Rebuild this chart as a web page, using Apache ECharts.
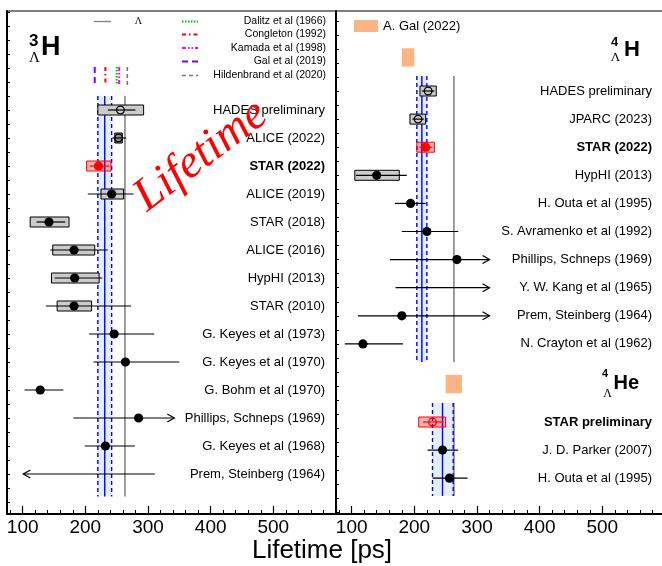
<!DOCTYPE html>
<html>
<head>
<meta charset="utf-8">
<script src="https://cdn.jsdelivr.net/npm/echarts@6/dist/echarts.min.js"></script>
<style>
html, body { margin: 0; padding: 0; background: #fff; }
#c { width: 662px; height: 566px; }
</style>
</head>
<body>
<div id="c"></div>
<script>
// ---------- lifetimes in ps ----------
const LAMBDA_TAU = 263.2;
const X_MIN = 75, X_MAX = 600;
const majorTicks = [100, 200, 300, 400, 500, 600];
const tickLabels = [100, 200, 300, 400, 500];

// hypertriton
const h3Labels = ['HADES preliminary', 'ALICE (2022)', 'STAR (2022)', 'ALICE (2019)', 'STAR (2018)',
  'ALICE (2016)', 'HypHI (2013)', 'STAR (2010)', 'G. Keyes et al (1973)', 'G. Keyes et al (1970)',
  'G. Bohm et al (1970)', 'Phillips, Schneps (1969)', 'G. Keyes et al (1968)', 'Prem, Steinberg (1964)'];
const h3Tau    = [256, 253, 221, 242, 142, 182, 183, 182, 246, 264, 128, 285, 232, null];
const h3StatLo = [236, 243, 207, 204, 122, 144, 151, 137, 206, 213, 103, 181, 199, 101];
const h3StatHi = [280, 265, 238, 277, 168, 236, 227, 273, 310, 350, 165, 342, 279, 311];
const h3SysLo  = [220, 247, 202, 225, 112, 148, 146, 155, null, null, null, null, null, null];
const h3SysHi  = [293, 259, 241, 261, 174, 215, 222, 210, null, null, null, null, null, null];
const h3Arrow  = ['', '', '', '', '', '', '', '', '', '', '', 'right', '', 'left'];
const h3Kind   = ['open', 'openDark', 'star', '', '', '', '', '', '', '', '', '', '', ''];
const h3Avg    = [220, 231, 242];            // low, mean, high
const h3TheoryNames = ['Dalitz et al (1966)', 'Congleton (1992)', 'Kamada et al (1998)', 'Gal et al (2019)', 'Hildenbrand et al (2020)'];
const h3TheoryTau   = [250, 232, 254, 215, 267];

// 4ΛH
const h4Labels = ['HADES preliminary', 'JPARC (2023)', 'STAR (2022)', 'HypHI (2013)', 'H. Outa et al (1995)',
  'S. Avramenko et al (1992)', 'Phillips, Schneps (1969)', 'Y. W. Kang et al (1965)', 'Prem, Steinberg (1964)', 'N. Crayton et al (1962)'];
const h4Tau    = [222, 206, 218, 140, 194, 220, 268, null, 180, 118];
const h4StatLo = [212, 197, 208, 107, 169, 180, 161, 170, 110, 89];
const h4StatHi = [232, 215, 229, 188, 218, 270, 320, 320, 320, 182];
const h4SysLo  = [209, 193, 204, 105, null, null, null, null, null, null];
const h4SysHi  = [235, 218, 232, 176, null, null, null, null, null, null];
const h4Arrow  = ['', '', '', '', '', '', 'right', 'right', 'right', ''];
const h4Kind   = ['open', 'open', 'star', '', '', '', '', '', '', ''];
const h4Avg    = [204, 212, 220];
const h4GalRange = [180, 200];

// 4ΛHe
const heLabels = ['STAR preliminary', 'J. D. Parker (2007)', 'H. Outa et al (1995)'];
const heTau    = [229, 245, 256];
const heStatLo = [214, 221, 229];
const heStatHi = [246, 270, 285];
const heSysLo  = [207, null, null];
const heSysHi  = [250, null, null];
const heArrow  = ['', '', ''];
const heKind   = ['starOpen', '', ''];
const heAvg    = [229, 245, 262];
const heGalRange = [250, 276];

// ---------- layout ----------
const GRID_TOP = 11, GRID_H = 503, PANEL_W = 329;
const L_LEFT = 7, R_LEFT = 336;
const L_ROW0 = 110, L_ROWPX = 28;     // first row centre / row pitch (px)
const R_ROW0 = 91,  R_ROWPX = 28.1;
const HE_ROW0 = 11.78;                // 4ΛHe block offset in right panel rows
const FONT = '"Liberation Sans", Arial, Helvetica, sans-serif';
const SERIF = '"Liberation Serif", "Times New Roman", serif';

function yRange(row0, pitch) {
  const min = -(row0 - GRID_TOP) / pitch;
  return [min, min + GRID_H / pitch];
}
const [lyMin, lyMax] = yRange(L_ROW0, L_ROWPX);
const [ryMin, ryMax] = yRange(R_ROW0, R_ROWPX);

function halfSteps(min, max) {
  const out = [];
  for (let v = Math.ceil(min * 2) / 2; v <= max; v += 0.5) out.push(v);
  return out;
}
const minorTicks = [];
for (let v = 80; v < X_MAX; v += 20) if (v % 100) minorTicks.push(v);

function buildRows(labels, tau, sLo, sHi, yLo, yHi, arrow, kind) {
  return labels.map((label, i) => ({
    label, tau: tau[i], statLo: sLo[i], statHi: sHi[i],
    sysLo: yLo[i], sysHi: yHi[i], arrow: arrow[i], kind: kind[i]
  }));
}
const h3Rows = buildRows(h3Labels, h3Tau, h3StatLo, h3StatHi, h3SysLo, h3SysHi, h3Arrow, h3Kind);
const h4Rows = buildRows(h4Labels, h4Tau, h4StatLo, h4StatHi, h4SysLo, h4SysHi, h4Arrow, h4Kind);
const heRows = buildRows(heLabels, heTau, heStatLo, heStatHi, heSysLo, heSysHi, heArrow, heKind);

function xAxes(gridIndex) {
  return [{
    type: 'value', gridIndex, min: X_MIN, max: X_MAX, position: 'bottom',
    axisLine: { show: true, onZero: false, lineStyle: { color: '#000', width: 2 } },
    axisTick: { show: true, inside: true, length: 8, customValues: majorTicks, lineStyle: { color: '#000', width: 1.2 } },
    axisLabel: { show: true, customValues: tickLabels, fontSize: 19, color: '#000', fontFamily: FONT, margin: 4 },
    splitLine: { show: false }
  }, {
    type: 'value', gridIndex, min: X_MIN, max: X_MAX, position: 'bottom',
    axisLine: { show: false, onZero: false },
    axisTick: { show: true, inside: true, length: 4, customValues: minorTicks, lineStyle: { color: '#000', width: 1 } },
    axisLabel: { show: false },
    splitLine: { show: false }
  }];
}

function yAxis(gridIndex, min, max) {
  return {
    type: 'value', gridIndex, min, max, inverse: true, position: 'left',
    axisLine: { show: true, onZero: false, lineStyle: { color: '#000', width: 2 } },
    axisTick: { show: true, inside: true, length: 3, customValues: halfSteps(min, max), lineStyle: { color: '#000' } },
    axisLabel: { show: false },
    splitLine: { show: false }
  };
}

// one row per measurement: systematic box, statistical bar, arrow, marker, label
function measurementSeries(gridIdx, rows, rowOffset, labelRight, labelSize) {
  return {
    type: 'custom', xAxisIndex: gridIdx * 2, yAxisIndex: gridIdx, clip: false, z: 5,
    data: rows.map((_, i) => [i]),
    renderItem(params, api) {
      const i = api.value(0);
      const r = rows[i];
      const row = rowOffset + i;
      const y = api.coord([X_MIN, row])[1];
      const px = v => api.coord([v, row])[0];
      const red = r.kind === 'star' || r.kind === 'starOpen';
      const ink = red ? '#ff0000' : '#000';
      const kids = [];
      if (r.sysLo != null) {
        const fill = red ? 'rgba(255,0,0,0.3)' : (r.kind === 'openDark' ? '#8e8e8e' : '#cbcbcb');
        kids.push({
          type: 'rect',
          shape: { x: px(r.sysLo), y: y - 5, width: px(r.sysHi) - px(r.sysLo), height: 10 },
          style: { fill, stroke: red ? '#ff0000' : '#000', lineWidth: 1 }
        });
      }
      kids.push({
        type: 'line', shape: { x1: px(r.statLo), y1: y, x2: px(r.statHi), y2: y },
        style: { stroke: ink, lineWidth: 1.2 }
      });
      if (r.arrow === 'right') {
        const t = px(r.statHi);
        kids.push({ type: 'polyline', shape: { points: [[t - 7, y - 4], [t, y], [t - 7, y + 4]] },
          style: { stroke: ink, fill: null, lineWidth: 1.2 } });
      } else if (r.arrow === 'left') {
        const t = px(r.statLo);
        kids.push({ type: 'polyline', shape: { points: [[t + 7, y - 4], [t, y], [t + 7, y + 4]] },
          style: { stroke: ink, fill: null, lineWidth: 1.2 } });
      }
      if (r.tau != null) {
        const open = r.kind === 'open' || r.kind === 'openDark' || r.kind === 'starOpen';
        kids.push({
          type: 'circle', shape: { cx: px(r.tau), cy: y, r: open ? 3.8 : 4.6 },
          style: open ? { fill: 'transparent', stroke: ink, lineWidth: 1.3 } : { fill: ink }
        });
      }
      kids.push({
        type: 'text', x: params.coordSys.x + labelRight, y,
        style: {
          text: r.label, fill: '#000', fontSize: labelSize, fontFamily: FONT,
          fontWeight: (r.kind === 'star' || r.kind === 'starOpen') ? 'bold' : 'normal',
          align: 'right', verticalAlign: 'middle'
        }
      });
      return { type: 'group', children: kids };
    }
  };
}

// average band (fill, dashed edges, solid mean) plus the free-Λ lifetime line
function bandSeries(gridIdx, avg, rowTop, rowBot) {
  return {
    type: 'custom', xAxisIndex: gridIdx * 2, yAxisIndex: gridIdx, clip: false, z: 2,
    data: [[0]],
    renderItem(params, api) {
      const [lo, mid, hi] = avg;
      const a = api.coord([lo, rowTop]), b = api.coord([hi, rowBot]);
      const xm = api.coord([mid, rowTop])[0];
      const xl = api.coord([LAMBDA_TAU, rowTop])[0];
      return {
        type: 'group', children: [
          { type: 'rect', shape: { x: a[0], y: a[1], width: b[0] - a[0], height: b[1] - a[1] },
            style: { fill: '#e2eefc' } },
          { type: 'line', shape: { x1: xl, y1: a[1], x2: xl, y2: b[1] },
            style: { stroke: '#858585', lineWidth: 1.6 } },
          { type: 'line', shape: { x1: a[0], y1: a[1], x2: a[0], y2: b[1] },
            style: { stroke: '#0000ff', lineWidth: 1.4, lineDash: [4, 3] } },
          { type: 'line', shape: { x1: b[0], y1: a[1], x2: b[0], y2: b[1] },
            style: { stroke: '#0000ff', lineWidth: 1.4, lineDash: [4, 3] } },
          { type: 'line', shape: { x1: xm, y1: a[1], x2: xm, y2: b[1] },
            style: { stroke: '#0000ff', lineWidth: 1.4 } }
        ]
      };
    }
  };
}

const theoryStyles = [
  { stroke: '#00c000', lineWidth: 2, lineDash: [1.5, 1.5] },
  { stroke: '#ff0000', lineWidth: 2, lineDash: [4, 3, 1.5, 3] },
  { stroke: '#ff00ff', lineWidth: 2, lineDash: [4, 2, 1.5, 2, 1.5, 2] },
  { stroke: '#7f00ff', lineWidth: 2, lineDash: [6, 4] },
  { stroke: '#8f6f60', lineWidth: 1.6, lineDash: [4, 3] }
];

const theorySeries = {
  type: 'custom', xAxisIndex: 0, yAxisIndex: 0, clip: false, z: 3,
  data: h3TheoryTau.map((v, i) => [v, i]),
  renderItem(params, api) {
    const a = api.coord([api.value(0), -1.54]);
    const b = api.coord([api.value(0), -0.89]);
    return { type: 'line', shape: { x1: a[0], y1: a[1], x2: b[0], y2: b[1] },
      style: Object.assign({}, theoryStyles[api.value(1)]) };
  }
};

function galBox(range, rowTop, rowBot) {
  return {
    type: 'custom', xAxisIndex: 2, yAxisIndex: 1, clip: false, z: 3,
    data: [[range[0], range[1]]],
    renderItem(params, api) {
      const a = api.coord([api.value(0), rowTop]);
      const b = api.coord([api.value(1), rowBot]);
      return { type: 'rect', shape: { x: a[0], y: a[1], width: b[0] - a[0], height: b[1] - a[1] },
        style: { fill: '#fbb482' } };
    }
  };
}

// ---------- legend, titles, annotations ----------
const graphics = [];
function txt(x, y, text, font, align, extra) {
  graphics.push(Object.assign({
    type: 'text', x, y, z: 20,
    style: { text, font, fill: '#000', align: align || 'left', verticalAlign: 'middle' }
  }, extra || {}));
}
function seg(x1, y1, x2, y2, style) {
  graphics.push({ type: 'line', z: 20, shape: { x1, y1, x2, y2 }, style });
}

// Λ reference line key
seg(94, 21.5, 111, 21.5, { stroke: '#858585', lineWidth: 1.4 });
txt(138.5, 21.5, 'Λ', '10px ' + SERIF, 'center');
// theory keys
const keyY = [21.5, 34.5, 48, 61.5, 75.5];
h3TheoryNames.forEach((name, i) => {
  seg(182, keyY[i], 198, keyY[i], Object.assign({}, theoryStyles[i]));
  txt(326, keyY[i], name, '10.5px ' + FONT, 'right');
});
// A. Gal key
graphics.push({ type: 'rect', z: 20, shape: { x: 354, y: 20, width: 24, height: 12 }, style: { fill: '#fbb482' } });
txt(383, 26, 'A. Gal (2022)', '13px ' + FONT, 'left');

// nucleus titles
txt(29, 41, '3', 'bold 17px ' + FONT, 'left');
txt(41, 47.5, 'H', 'bold 27px ' + FONT, 'left');
txt(34.5, 58, 'Λ', '15px ' + SERIF, 'center');

txt(611, 42.5, '4', 'bold 13px ' + FONT, 'left');
txt(624, 49.5, 'H', 'bold 22px ' + FONT, 'left');
txt(615.5, 58, 'Λ', '13px ' + SERIF, 'center');

txt(602, 373.5, '4', 'bold 11px ' + FONT, 'left');
txt(613.5, 383.5, 'He', 'bold 20px ' + FONT, 'left');
txt(607.5, 393.5, 'Λ', '12px ' + SERIF, 'center');

// big slanted annotation
graphics.push({
  type: 'text', x: 201, y: 156, z: 30, rotation: 37 * Math.PI / 180,
  style: { text: 'Lifetime', font: 'italic 47px ' + SERIF, fill: '#ff0000', align: 'center', verticalAlign: 'middle' }
});

// axis title
txt(322, 551, 'Lifetime [ps]', '26px ' + FONT, 'center');

const chart = echarts.init(document.getElementById('c'), null, { renderer: 'canvas' });
chart.setOption({
  animation: false,
  backgroundColor: '#fff',
  grid: [
    { left: L_LEFT, top: GRID_TOP, width: PANEL_W, height: GRID_H, show: true, borderColor: '#000', borderWidth: 1,
      containLabel: false, outerBoundsMode: 'none' },
    { left: R_LEFT, top: GRID_TOP, width: PANEL_W, height: GRID_H, show: true, borderColor: '#000', borderWidth: 1,
      containLabel: false, outerBoundsMode: 'none' }
  ],
  xAxis: xAxes(0).concat(xAxes(1)),
  yAxis: [yAxis(0, lyMin, lyMax), yAxis(1, ryMin, ryMax)],
  series: [
    bandSeries(0, h3Avg, -0.5, 13.8),
    bandSeries(1, h4Avg, -0.53, 9.64),
    bandSeries(1, heAvg, HE_ROW0 - 0.68, HE_ROW0 + 2.63),
    theorySeries,
    galBox(h4GalRange, -1.52, -0.87),
    galBox(heGalRange, HE_ROW0 - 1.68, HE_ROW0 - 1.02),
    measurementSeries(0, h3Rows, 0, 318, 13),
    measurementSeries(1, h4Rows, 0, 316, 13),
    measurementSeries(1, heRows, HE_ROW0, 316, 13)
  ],
  graphic: { elements: graphics }
});
</script>
</body>
</html>
